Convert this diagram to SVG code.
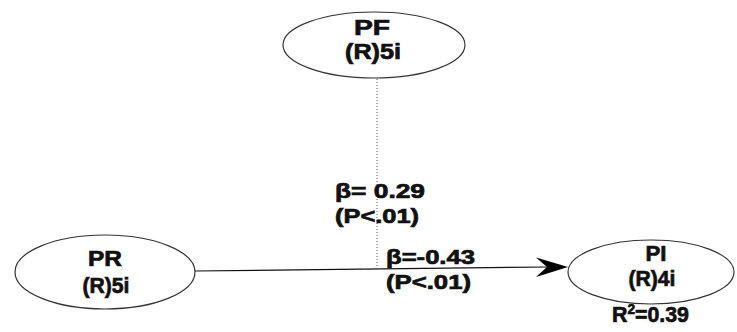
<svg xmlns="http://www.w3.org/2000/svg" width="737" height="332" viewBox="0 0 737 332">
<style>
.node ellipse{fill:#fff;stroke:#333;stroke-width:1.2}
text{font-family:"Liberation Sans",Arial,sans-serif;font-weight:bold;font-size:20px;fill:#111;stroke:#111;stroke-width:0.7}
.node text{font-size:22px}
.c{text-anchor:middle}
</style>
<rect width="737" height="332" fill="#fff"/>
<g id="connectors">
<line x1="377" y1="79" x2="377" y2="268" stroke="#555" stroke-width="1" stroke-dasharray="1 2"/>
<line x1="195" y1="271" x2="548" y2="267" stroke="#111" stroke-width="1.2"/>
<path d="M568,267 L536,257.5 L547,267 L536,277 Z" fill="#000"/>
</g>
<g id="PF" class="node">
<ellipse cx="374" cy="45" rx="91" ry="33"/>
<text class="c" x="372" y="35" textLength="36" lengthAdjust="spacingAndGlyphs">PF</text>
<text class="c" x="373" y="59" textLength="56" lengthAdjust="spacingAndGlyphs">(R)5i</text>
</g>
<g id="PR" class="node">
<ellipse cx="105" cy="272" rx="90" ry="37"/>
<text class="c" x="105" y="266" textLength="34" lengthAdjust="spacingAndGlyphs">PR</text>
<text class="c" x="106" y="293" textLength="47" lengthAdjust="spacingAndGlyphs">(R)5i</text>
</g>
<g id="PI" class="node">
<ellipse cx="651" cy="272" rx="83" ry="32"/>
<text class="c" x="656" y="261" textLength="21" lengthAdjust="spacingAndGlyphs">PI</text>
<text class="c" x="652" y="286" textLength="47" lengthAdjust="spacingAndGlyphs">(R)4i</text>
<text x="612" y="322" textLength="77" lengthAdjust="spacingAndGlyphs">R<tspan font-size="14" dy="-8">2</tspan><tspan dy="8">=0.39</tspan></text>
</g>
<g id="labels">
<text x="335" y="198" textLength="90" lengthAdjust="spacingAndGlyphs">β= 0.29</text>
<text x="335" y="223" textLength="84" lengthAdjust="spacingAndGlyphs">(P&lt;.01)</text>
<text x="386" y="264" textLength="89" lengthAdjust="spacingAndGlyphs">β=-0.43</text>
<text x="386" y="289" textLength="85" lengthAdjust="spacingAndGlyphs">(P&lt;.01)</text>
</g>
</svg>
